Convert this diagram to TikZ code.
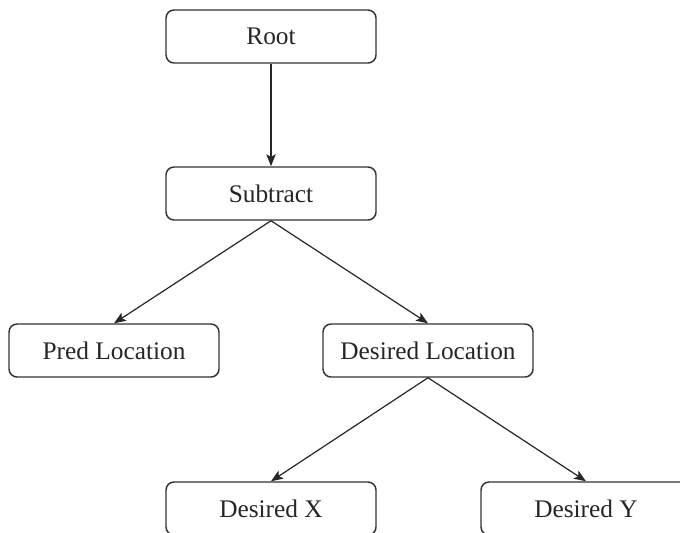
\documentclass[tikz,border=0pt]{standalone}
\usepackage{fontspec}
\setmainfont{Liberation Serif}
\usetikzlibrary{arrows.meta}

\tikzset{
  treebox/.style = {draw=black!80, line width=1.1pt, rounded corners=6pt,
    minimum width=157.5pt, minimum height=39.75pt, fill=white,
    font=\fontsize{19}{22}\selectfont, text=black!85},
  treeedge/.style = {-{Stealth[length=9pt,width=7pt,inset=2pt]}, line width=0.9pt, black!85}
}

\begin{document}
\begin{tikzpicture}[x=0.75pt, y=-0.75pt]
  \useasboundingbox (0,0) rectangle (680,532);
  % nodes of the tree:
  \node [treebox] (root)   at (271,36.5)  {Root};
  \node [treebox] (sub)    at (271,193.5) {Subtract};
  \node [treebox] (pred)   at (114,350.5) {Pred Location};
  \node [treebox] (desloc) at (428,350.5) {Desired Location};
  \node [treebox] (desx)   at (271,508.5) {Desired X};
  \node [treebox] (desy)   at (586,508.5) {Desired Y};
  % edges:
  \foreach \from/\to in {root/sub, sub/pred, sub/desloc, desloc/desx, desloc/desy}
    \draw [treeedge] (\from.south) -- (\to.north);
\end{tikzpicture}
\end{document}
